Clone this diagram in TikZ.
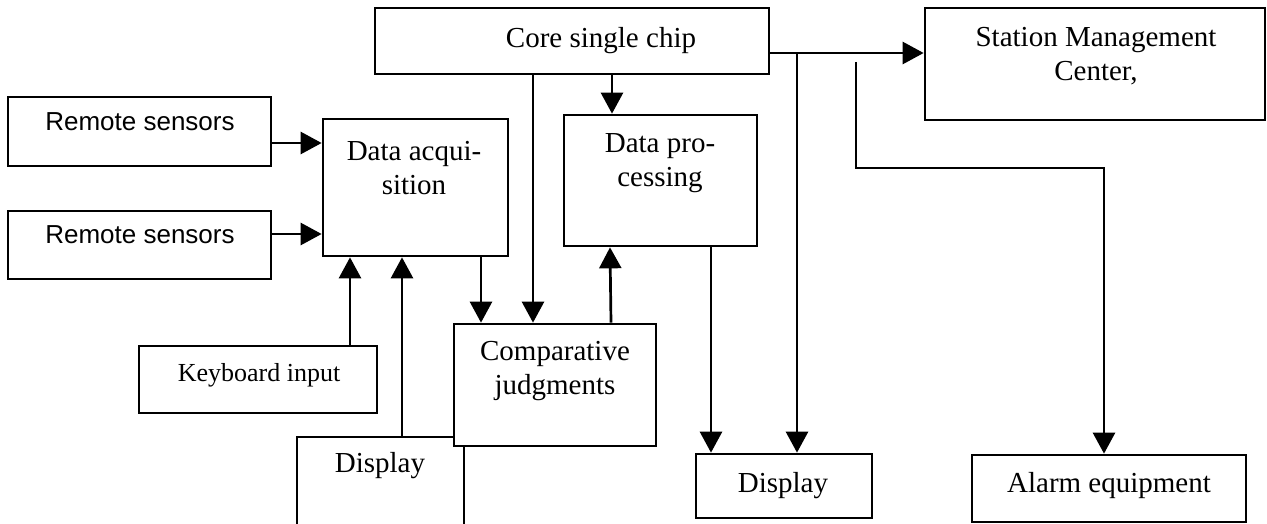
\documentclass[tikz,border=0pt]{standalone}
\usepackage{fontspec}
\setmainfont{Liberation Serif}
\newfontfamily\sansf{Liberation Sans}
\usetikzlibrary{arrows.meta}
\tikzset{
  box/.style={draw, line width=2.7pt, inner sep=0pt},
  ln/.style={line width=2.7pt},
  arr/.style={line width=2.7pt, -{Triangle[length=21pt,width=22pt]}},
  lbl/.style={font=\fontsize{29}{34}\selectfont, align=center, inner sep=0pt},
  slbl/.style={font=\sansf\fontsize{26}{30}\selectfont, inner sep=0pt},
  klbl/.style={font=\fontsize{26}{30}\selectfont, inner sep=0pt},
}
\newcommand\mkbox[5]{\node[box,minimum width={#4pt-#2pt},minimum height={#5pt-#3pt}] (#1) at ({(#2+#4)/2},{(#3+#5)/2}) {};}
\begin{document}
\begin{tikzpicture}[x=1pt,y=-1pt]
\useasboundingbox (0,0) rectangle (1267,524);
% boxes
\mkbox{rsa}{8}{97}{271}{166}
\mkbox{rsb}{8}{211}{271}{279}
\mkbox{da}{323}{119}{508}{256}
\mkbox{dp}{564}{115}{757}{246}
\mkbox{core}{375}{8}{769}{74}
\mkbox{st}{925}{8}{1265}{120}
\mkbox{cj}{454}{324}{656}{446}
\mkbox{kb}{139}{346}{377}{413}
\mkbox{dtwo}{696}{454}{872}{518}
\mkbox{al}{972}{455}{1246}{522}
% texts
\node[slbl] (rsat) at (140,122) {Remote sensors};
\node[slbl] (rsbt) at (140,235) {Remote sensors};
\node[lbl] (dat) at (414,168) {Data acqui-\\sition};
\node[lbl] (dpt) at (660,163) {Data pro-\\cessing};
\node[lbl] (coret) at (601,41) {Core single chip};
\node[lbl] (stt) at (1096,56) {Station Management\\Center,};
\node[lbl] (cjt) at (555,371) {Comparative\\judgments};
\node[klbl] (kbt) at (259,375) {Keyboard input};
\node[lbl] (dtwot) at (783,486) {Display};
\node[lbl] (alt) at (1109,486) {Alarm equipment};
\node[lbl] (dlt) at (380,466) {Display};
% open display box
\coordinate (dl) at (402,437);
\draw[ln] (297,524) -- (297,437) -- (cj.west |- 0,437);
\draw[ln] (cj.south -| 464,0) -- (464,524);
% connectors
\draw[arr] (rsa.east |- 0,143) -- (da.west |- 0,143);
\draw[arr] (rsb.east |- 0,234) -- (da.west |- 0,234);
\draw[arr] (kb.north -| 350,0) -- (da.south -| 350,0);
\draw[arr] (dl) -- (da.south -| 402,0);
\draw[arr] (da.south -| 481,0) -- (cj.north -| 481,0);
\draw[arr] (core.south -| 533,0) -- (cj.north -| 533,0);
\draw[arr] (core.south -| 612,0) -- (dp.north -| 612,0);
\draw[arr] (cj.north -| 611,0) -- (dp.south -| 610,0);
\draw[arr] (dp.south -| 711,0) -- (dtwo.north -| 711,0);
\draw[arr] (core.east |- 0,53) -- (st.west |- 0,53);
\coordinate (br) at (797,53);
\draw[arr] (br) -- (dtwo.north -| 797,0);
\coordinate (fs) at (856,62);
\draw[arr] (fs) |- (1104,168) -- (al.north -| 1104,0);
\end{tikzpicture}
\end{document}
